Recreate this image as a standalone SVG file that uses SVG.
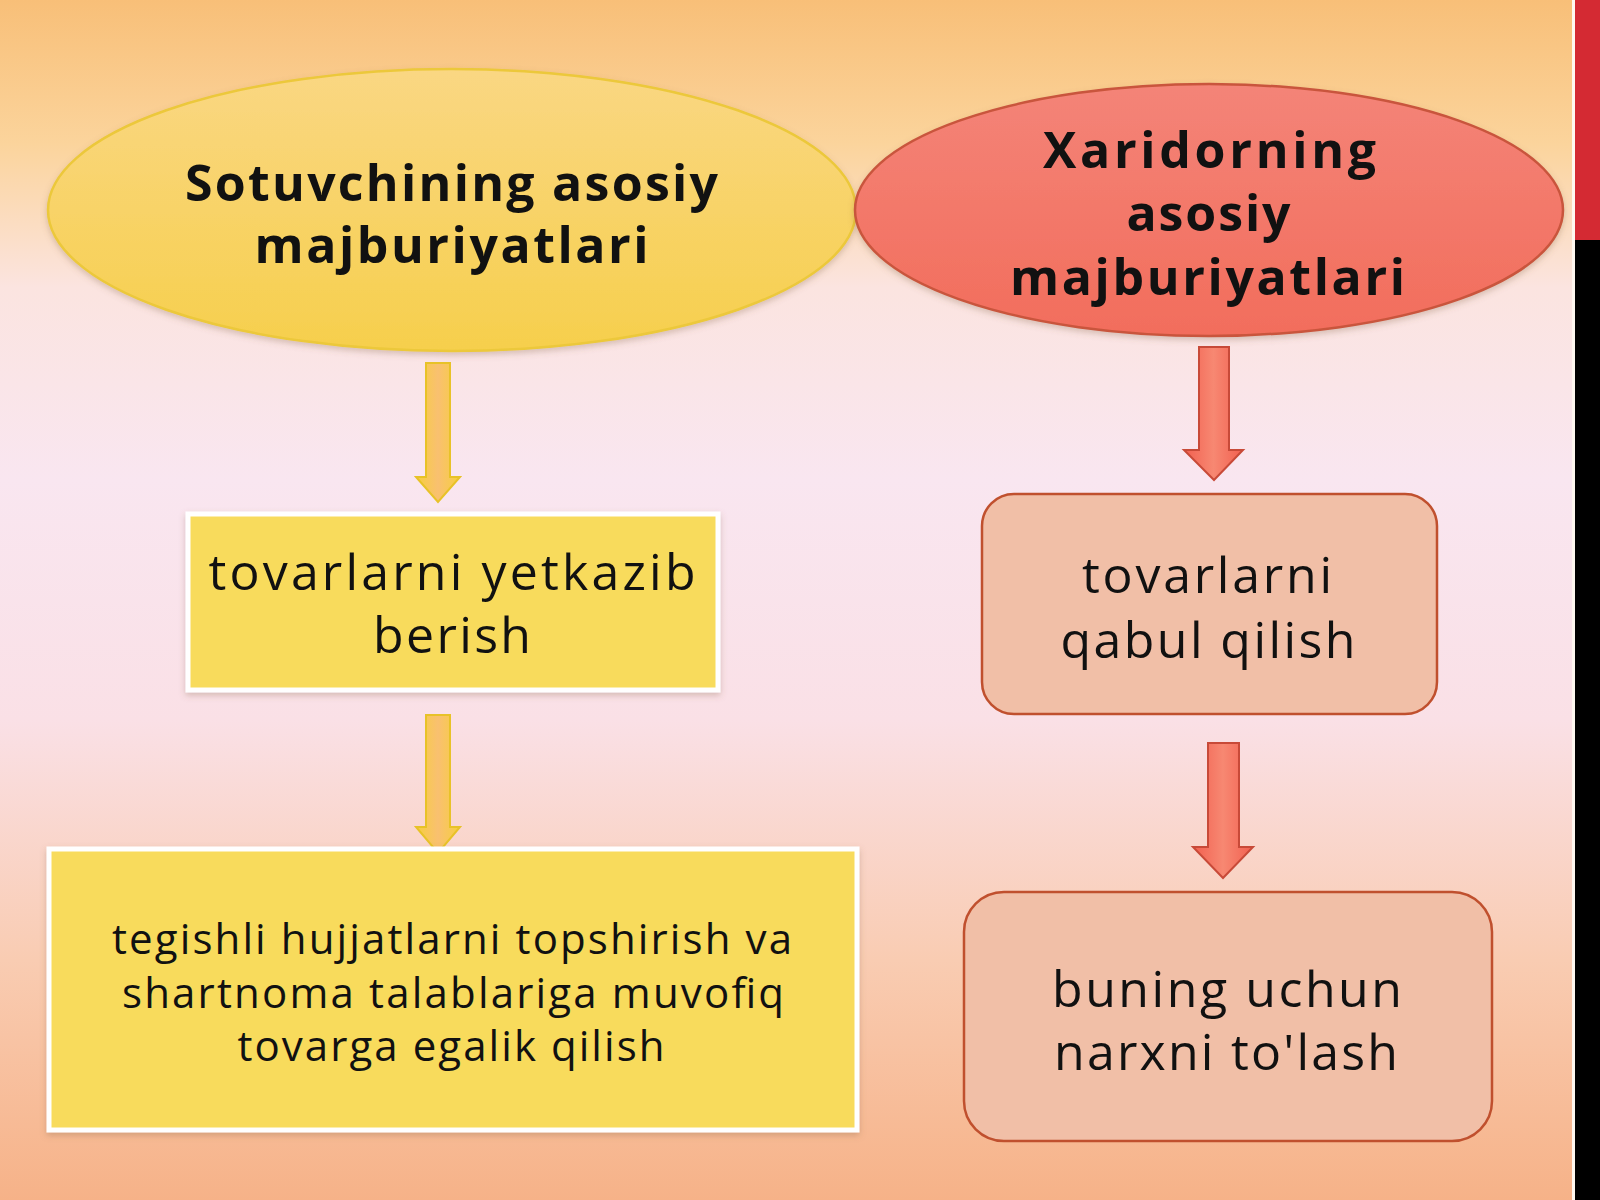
<svg xmlns="http://www.w3.org/2000/svg" width="1600" height="1200" viewBox="0 0 1600 1200">
<defs>
<linearGradient id="bg" x1="0" y1="0" x2="0" y2="1">
<stop offset="0" stop-color="#f8bf78"/>
<stop offset="0.12" stop-color="#fbd49c"/>
<stop offset="0.24" stop-color="#fbe4e0"/>
<stop offset="0.4" stop-color="#f9e6f0"/>
<stop offset="0.6" stop-color="#fae0e6"/>
<stop offset="0.8" stop-color="#f9ccb2"/>
<stop offset="1" stop-color="#f6b288"/>
</linearGradient>
<linearGradient id="yel" x1="0" y1="0" x2="0" y2="1">
<stop offset="0" stop-color="#fad783"/>
<stop offset="1" stop-color="#f6cf4c"/>
</linearGradient>
<linearGradient id="red" x1="0" y1="0" x2="0" y2="1">
<stop offset="0" stop-color="#f48478"/>
<stop offset="1" stop-color="#f26d5c"/>
</linearGradient>
<linearGradient id="yarr" x1="0" y1="0" x2="1" y2="0">
<stop offset="0" stop-color="#f7cf3e"/>
<stop offset="0.5" stop-color="#f9c070"/>
<stop offset="1" stop-color="#f7cf3e"/>
</linearGradient>
<linearGradient id="rarr" x1="0" y1="0" x2="1" y2="0">
<stop offset="0" stop-color="#f26050"/>
<stop offset="0.5" stop-color="#f78872"/>
<stop offset="1" stop-color="#f26050"/>
</linearGradient>
<filter id="sh" x="-10%" y="-10%" width="120%" height="130%">
<feDropShadow dx="0" dy="3" stdDeviation="3" flood-color="#806040" flood-opacity="0.3"/>
</filter>
</defs>
<style>
.t{font-family:"Open Sans","Noto Sans","DejaVu Sans",sans-serif;fill:#111;text-anchor:middle}
.b{font-weight:bold;font-size:50px;letter-spacing:1px}
.r{font-size:50px}
.ybox{fill:#f8db5c;stroke:#ffffff;stroke-width:5}
.rbox{fill:#f1bfa7;stroke:#c0502e;stroke-width:2.5}
.ya{fill:url(#yarr);stroke:#e8c228;stroke-width:2}
.ra{fill:url(#rarr);stroke:#c84a38;stroke-width:2}
</style>
<rect x="0" y="0" width="1600" height="1200" fill="url(#bg)"/>
<rect x="1572" y="0" width="3" height="1200" fill="#fff8f0"/>
<rect x="1575" y="0" width="25" height="240" fill="#d42a33"/>
<rect x="1575" y="240" width="25" height="960" fill="#000000"/>

<g id="connectors">
<path class="ya" d="M426,363 H450 V477 H460 L438,502 L416,477 H426 Z"/>
<path class="ya" d="M426,715 H450 V827 H460 L438,853 L416,827 H426 Z"/>
<path class="ra" d="M1199,347 H1229 V450 H1243 L1214,480 L1184,450 H1199 Z"/>
<path class="ra" d="M1208,743 H1239 V847 H1253 L1223,878 L1193,847 H1208 Z"/>
</g>

<g id="seller">
<ellipse cx="452" cy="210" rx="404" ry="141" fill="url(#yel)" stroke="#ecc83a" stroke-width="2.5" filter="url(#sh)"/>
<text class="t b" x="452" y="201" textLength="534">Sotuvchining asosiy</text>
<text class="t b" x="452" y="263" textLength="395">majburiyatlari</text>
</g>

<g id="buyer">
<ellipse cx="1209" cy="210" rx="354" ry="126" fill="url(#red)" stroke="#c9553c" stroke-width="2.5" filter="url(#sh)"/>
<text class="t b" x="1210" y="168" textLength="334">Xaridorning</text>
<text class="t b" x="1209" y="231" textLength="165">asosiy</text>
<text class="t b" x="1208" y="295" textLength="396">majburiyatlari</text>
</g>

<g id="deliver">
<rect class="ybox" x="188" y="514" width="530" height="176" filter="url(#sh)"/>
<text class="t r" x="452" y="590" textLength="487">tovarlarni yetkazib</text>
<text class="t r" x="452" y="653" textLength="158">berish</text>
</g>

<g id="documents">
<rect class="ybox" x="49" y="849" width="808" height="281" filter="url(#sh)"/>
<text class="t" font-size="42" x="452" y="954" textLength="680">tegishli hujjatlarni topshirish va</text>
<text class="t" font-size="42" x="453" y="1008" textLength="662">shartnoma talablariga muvofiq</text>
<text class="t" font-size="42" x="451" y="1061" textLength="427">tovarga egalik qilish</text>
</g>

<g id="accept">
<rect class="rbox" x="982" y="494" width="455" height="220" rx="32" ry="32"/>
<text class="t r" x="1207" y="593" textLength="250">tovarlarni</text>
<text class="t r" x="1208" y="658" textLength="295">qabul qilish</text>
</g>

<g id="pay">
<rect class="rbox" x="964" y="892" width="528" height="249" rx="40" ry="40"/>
<text class="t" font-size="50" x="1227" y="1007" textLength="350">buning uchun</text>
<text class="t" font-size="50" x="1226" y="1070" textLength="344">narxni to'lash</text>
</g>
</svg>
